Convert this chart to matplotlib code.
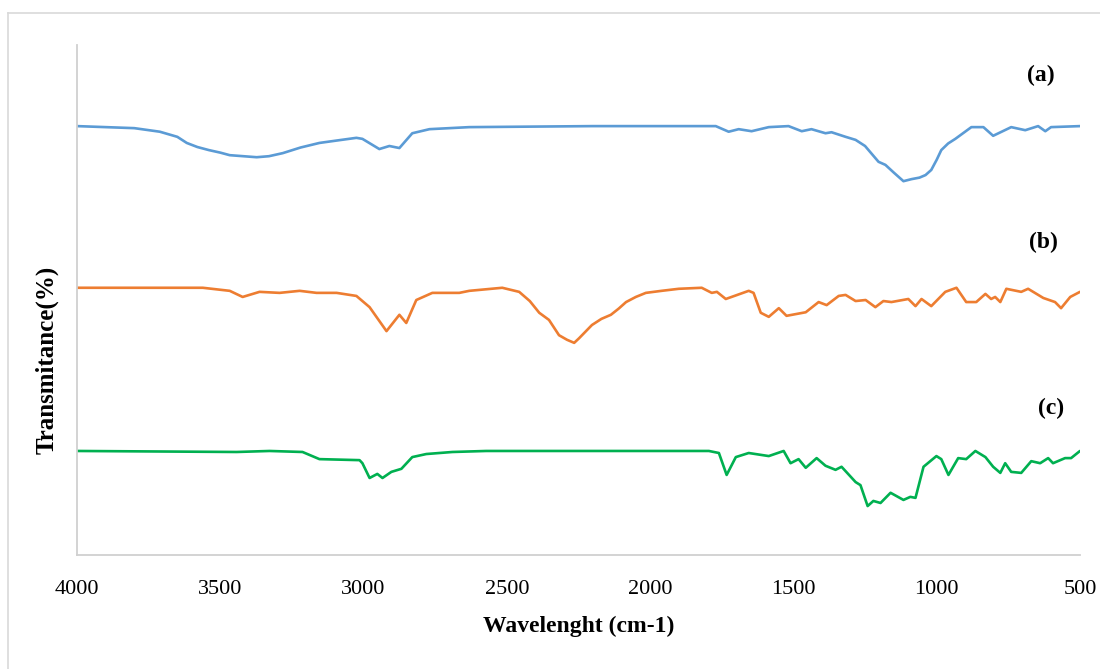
"""
FTIR spectra of samples (a), (b) and (c), stacked with an offset.
"""

import matplotlib.pyplot as plt
from matplotlib.lines import Line2D

# --- Data (wavenumber cm-1, offset transmittance) ---
wn_a = [4000, 3800, 3711, 3650, 3617, 3580, 3540, 3500, 3467, 3420, 3373, 3330, 3282,
        3220, 3154, 3090, 3025, 3004, 2945, 2910, 2875, 2830, 2770, 2631, 2200, 1771,
        1726, 1691, 1646, 1586, 1517, 1471, 1437, 1388, 1367, 1318, 1283, 1250, 1203,
        1179, 1150, 1116, 1088, 1060, 1039, 1019, 1000, 984, 960, 935, 879, 837, 803,
        740, 691, 646, 621, 601, 500]
t_a = [84.1, 83.7, 83.0, 82.0, 80.8, 80.0, 79.4, 78.9, 78.4, 78.2, 78.0, 78.2, 78.8,
       79.9, 80.8, 81.3, 81.8, 81.6, 79.6, 80.2, 79.8, 82.7, 83.5, 83.9, 84.1, 84.1,
       83.0, 83.5, 83.1, 83.9, 84.1, 83.1, 83.5, 82.7, 82.9, 82.0, 81.4, 80.2, 77.1,
       76.5, 75.0, 73.3, 73.7, 74.0, 74.5, 75.5, 77.5, 79.4, 80.7, 81.6, 83.9, 83.9, 82.2,
       83.9, 83.3, 84.1, 83.1, 83.9, 84.1]

wn_b = [4000, 3561, 3467, 3422, 3363, 3293, 3223, 3164, 3094, 3025, 2979, 2920, 2875,
        2851, 2816, 2760, 2666, 2631, 2516, 2457, 2420, 2387, 2353, 2318, 2290, 2265,
        2248, 2203, 2170, 2137, 2110, 2084, 2050, 2015, 1960, 1900, 1820, 1785, 1767,
        1736, 1656, 1639, 1614, 1586, 1551, 1524, 1457, 1412, 1384, 1342, 1318, 1283,
        1248, 1214, 1186, 1158, 1099, 1074, 1053, 1019, 970, 931, 897, 862, 830, 810,
        796, 778, 757, 705, 681, 628, 587, 566, 534, 500]
t_b = [52.4, 52.4, 51.8, 50.6, 51.6, 51.4, 51.8, 51.4, 51.4, 50.8, 48.6, 43.9, 47.1,
       45.5, 50.0, 51.4, 51.4, 51.8, 52.4, 51.6, 49.8, 47.5, 46.1, 43.1, 42.2, 41.6,
       42.5, 45.1, 46.3, 47.1, 48.3, 49.6, 50.6, 51.4, 51.8, 52.2, 52.4, 51.4, 51.6,
       50.2, 51.8, 51.4, 47.5, 46.7, 48.4, 46.9, 47.6, 49.6, 49.0, 50.8, 51.0, 49.8,
       50.0, 48.6, 49.8, 49.6, 50.2, 48.8, 50.2, 48.8, 51.6, 52.4, 49.6, 49.6, 51.2,
       50.2, 50.6, 49.6, 52.2, 51.6, 52.2, 50.4, 49.6, 48.4, 50.6, 51.6]

wn_c = [4000, 3443, 3328, 3213, 3154, 3014, 3004, 2979, 2952, 2934, 2903, 2868, 2830,
        2781, 2690, 2572, 2213, 1795, 1760, 1733, 1701, 1656, 1586, 1534, 1510, 1482,
        1457, 1419, 1388, 1353, 1332, 1283, 1266, 1241, 1221, 1196, 1161, 1116, 1092,
        1074, 1046, 1001, 984, 959, 925, 897, 865, 830, 803, 778, 761, 740, 705, 670,
        639, 611, 594, 552, 531, 500]
t_c = [20.4, 20.2, 20.4, 20.2, 18.8, 18.6, 18.0, 15.1, 15.9, 15.1, 16.3, 16.9, 19.2,
       19.8, 20.2, 20.4, 20.4, 20.4, 20.0, 15.7, 19.2, 20.0, 19.4, 20.4, 18.0, 18.8,
       17.1, 19.0, 17.5, 16.7, 17.3, 14.3, 13.7, 9.6, 10.6, 10.2, 12.2, 10.8, 11.4,
       11.2, 17.3, 19.4, 18.8, 15.7, 19.0, 18.8, 20.4, 19.2, 17.3, 16.1, 18.0, 16.3,
       16.1, 18.4, 18.0, 19.0, 18.0, 19.0, 19.0, 20.4]

labels = ['(a)', '(b)', '(c)']
label_pos = [(635, 94.1), (628, 61.2), (600, 28.8)]
xticks = [4000, 3500, 3000, 2500, 2000, 1500, 1000, 500]

# --- Plot ---
serif = ['Liberation Serif', 'DejaVu Serif']
fig = plt.figure(figsize=(11, 6.69), dpi=100)
fig.patch.set_facecolor('#ffffff')
ax = fig.add_axes([0.07, 0.1704, 0.9118, 0.7623])

line_kw = dict(lw=1.9, solid_joinstyle='round', solid_capstyle='round')
ax.plot(wn_a, t_a, color='#5B9BD5', **line_kw)
ax.plot(wn_b, t_b, color='#ED7D31', **line_kw)
ax.plot(wn_c, t_c, color='#00B050', **line_kw)

for txt, (x, y) in zip(labels, label_pos):
    ax.text(x, y, txt, ha='center', va='center', fontsize=17,
            fontweight='bold', family=serif)

ax.set_xlim(4000, 500)
ax.set_ylim(0, 100)
ax.set_xticks(xticks)
ax.set_xticklabels([str(t) for t in xticks], family=serif, fontsize=16)
ax.set_yticks([])
ax.tick_params(axis='x', length=0, pad=18)

for side in ['top', 'right']:
    ax.spines[side].set_visible(False)
for side in ['left', 'bottom']:
    ax.spines[side].set_color('#d0d0d0')
    ax.spines[side].set_linewidth(1.3)

ax.set_xlabel('Wavelenght (cm-1)', family=serif, fontsize=17, fontweight='bold', labelpad=12)
ax.set_ylabel('Transmitance(%)', family=serif, fontsize=18, fontweight='bold')
ax.yaxis.set_label_coords(-0.018, 0.382)

# light outer frame (top and left edges visible)
fig.add_artist(Line2D([8 / 1100, 1.0], [1 - 13 / 669, 1 - 13 / 669],
                      transform=fig.transFigure, color='#d9d9d9', lw=1.2))
fig.add_artist(Line2D([8 / 1100, 8 / 1100], [0.0, 1 - 13 / 669],
                      transform=fig.transFigure, color='#d9d9d9', lw=1.2))

plt.savefig('out.png', dpi=100)
plt.close()
